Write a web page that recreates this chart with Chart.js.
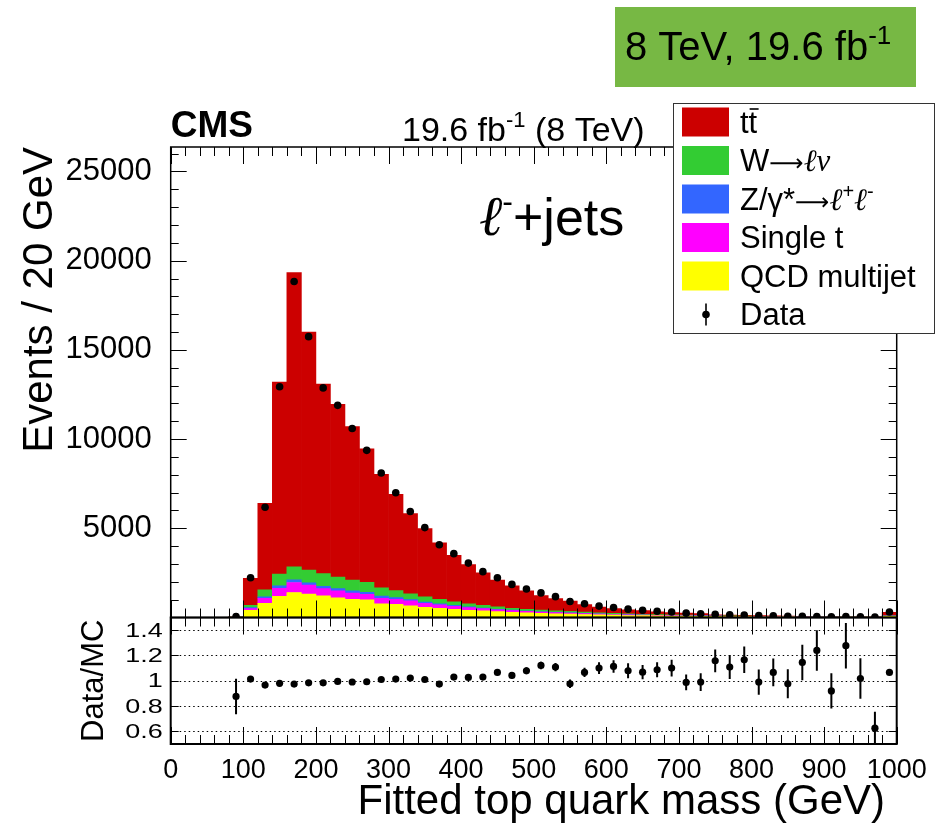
<!DOCTYPE html>
<html>
<head>
<meta charset="utf-8">
<title>Fitted top quark mass</title>
<script src="https://cdn.jsdelivr.net/npm/chart.js@4.4.1/dist/chart.umd.min.js"></script>
<style>
  html, body { margin: 0; padding: 0; background: #fff; }
  #wrap { position: relative; width: 943px; height: 828px; }
</style>
</head>
<body>
<div id="wrap"><canvas id="grafico" width="943" height="828"></canvas></div>
<script>
// ==========================
// Datos (bins de 20 GeV)
// ==========================

const centros = [10, 30, 50, 70, 90, 110, 130, 150, 170, 190,
  210, 230, 250, 270, 290, 310, 330, 350, 370, 390,
  410, 430, 450, 470, 490, 510, 530, 550, 570, 590,
  610, 630, 650, 670, 690, 710, 730, 750, 770, 790,
  810, 830, 850, 870, 890, 910, 930, 950, 970, 990];

const qcd = [0, 0, 0, 0, 20, 400, 800, 1190, 1400, 1320,
  1210, 1100, 1025, 985, 770, 745, 650, 577, 520, 465,
  409, 370, 330, 297, 260, 230, 210, 190, 170, 150,
  130, 115, 105, 95, 85, 75, 68, 60, 52, 46,
  42, 37, 33, 28, 24, 24, 20, 20, 18, 60];

const singleTop = [0, 0, 0, 0, 5, 100, 280, 450, 560, 500,
  410, 390, 350, 320, 310, 280, 280, 223, 186, 168,
  145, 128, 100, 90, 80, 75, 65, 55, 50, 45,
  40, 35, 30, 27, 24, 20, 18, 15, 13, 12,
  10, 9, 8, 7, 6, 6, 5, 5, 4, 15];

const zJets = [0, 0, 0, 0, 2, 50, 75, 130, 150, 130,
  130, 130, 115, 110, 120, 90, 73, 70, 60, 55,
  40, 35, 30, 25, 25, 20, 18, 15, 14, 12,
  10, 9, 8, 7, 6, 5, 5, 4, 4, 3,
  3, 3, 2, 2, 2, 2, 1, 1, 1, 5];

const wJets = [0, 0, 0, 0, 10, 140, 390, 670, 730, 710,
  710, 640, 615, 560, 460, 390, 320, 283, 260, 186,
  168, 155, 134, 108, 100, 95, 87, 80, 66, 58,
  55, 46, 42, 36, 30, 30, 24, 21, 19, 17,
  15, 13, 12, 10, 9, 9, 7, 7, 6, 25];

const ttbar = [0, 0, 0, 0, 20, 1510, 4855, 10760, 16490, 13340,
  10620, 9690, 8595, 7475, 6360, 5395, 4497, 3837, 3164, 2606,
  2208, 1812, 1506, 1260, 1025, 810, 675, 582, 422, 317,
  268, 231, 199, 157, 132, 118, 102, 55, 47, 38,
  36, 27, 22, 12, 7, 8, 6, 6, 6, 180];

const datos = [null, null, null, null, 50, 2230, 6180, 12930, 18830, 15740,
  12870, 11890, 10590, 9370, 8100, 6990, 5940, 5040, 4080, 3580,
  3050, 2570, 2230, 1855, 1600, 1380, 1170, 900, 770, 640,
  560, 470, 410, 350, 305, 245, 215, 180, 150, 135,
  105, 95, 75, 68, 60, 45, 50, 40, 22, 305];

// Data/MC
const cociente = [null, null, null, null, 0.876, 1.013, 0.966, 0.98, 0.974, 0.984,
  0.984, 0.995, 0.99, 0.992, 1.01, 1.013, 1.021, 1.01, 0.974, 1.029,
  1.026, 1.029, 1.066, 1.042, 1.079, 1.121, 1.108, 0.976, 1.066, 1.1,
  1.113, 1.079, 1.068, 1.087, 1.1, 0.987, 0.99, 1.158, 1.108, 1.166,
  0.99, 1.066, 0.976, 1.145, 1.24, 0.92, 1.277, 1.018, 0.625, 1.066];

const errCociente = [null, null, null, null, 0.14, 0.01, 0.01, 0.01, 0.01, 0.01,
  0.01, 0.01, 0.012, 0.012, 0.013, 0.014, 0.015, 0.016, 0.017, 0.018,
  0.02, 0.021, 0.023, 0.025, 0.027, 0.03, 0.032, 0.034, 0.037, 0.046,
  0.05, 0.06, 0.057, 0.06, 0.066, 0.063, 0.07, 0.09, 0.095, 0.105,
  0.1, 0.11, 0.115, 0.14, 0.16, 0.14, 0.18, 0.16, 0.13, 0.02];

// etiquetas de los ejes
const ticksX = [0, 100, 200, 300, 400, 500, 600, 700, 800, 900, 1000];
const ticksY = [5000, 10000, 15000, 20000, 25000];
const ticksCociente = [0.6, 0.8, 1, 1.2, 1.4];
const etiquetasCociente = ['0.6', '0.8', '1', '1.2', '1.4'];

const colores = {
  tt: '#cc0000', w: '#33cc33', z: '#3366ff', st: '#ff00ff', qcd: '#ffff00'
};

// ==========================
// Helpers de texto
// ==========================

const SANS = "'Liberation Sans', Arial, sans-serif";
const SERIF = "'Liberation Serif', 'DejaVu Serif', serif";

function texto(ctx, x, y, runs) {
  runs.forEach(([t, f, dy]) => {
    ctx.font = f;
    ctx.fillText(t, x, y + (dy || 0));
    x += ctx.measureText(t).width;
  });
  return x;
}

function ell(size) { return `italic ${size}px ${SERIF}`; }
function sans(size, w) { return `${w || ''} ${size}px ${SANS}`; }
const FLECHA = "24px 'DejaVu Sans', sans-serif";

// ==========================
// Plugin: marco, ticks, textos, leyenda
// ==========================

const decoracion = {
  id: 'decoracion',
  beforeDatasetsDraw(chart) {
    const { ctx, chartArea: ca, scales: { x, yr } } = chart;
    ctx.save();
    // lineas punteadas del ratio
    ctx.strokeStyle = '#000';
    ctx.lineWidth = 1;
    ctx.setLineDash([1.5, 3]);
    ticksCociente.forEach(v => {
      const py = Math.round(yr.getPixelForValue(v)) + 0.5;
      ctx.beginPath(); ctx.moveTo(ca.left, py); ctx.lineTo(ca.right, py); ctx.stroke();
    });
    ctx.setLineDash([]);
    // barras de error del ratio
    ctx.beginPath();
    ctx.rect(ca.left, yr.top, ca.right - ca.left, yr.bottom - yr.top);
    ctx.clip();
    ctx.lineWidth = 2;
    centros.forEach((c, i) => {
      if (cociente[i] == null) return;
      const px = x.getPixelForValue(c);
      ctx.beginPath();
      ctx.moveTo(px, yr.getPixelForValue(cociente[i] - errCociente[i]));
      ctx.lineTo(px, yr.getPixelForValue(cociente[i] + errCociente[i]));
      ctx.stroke();
    });
    ctx.restore();
  },
  afterDraw(chart) {
    const { ctx, chartArea: ca, scales: { x, y, yr } } = chart;
    ctx.save();
    ctx.strokeStyle = '#000';
    ctx.fillStyle = '#000';

    // ticks hacia dentro
    ctx.lineWidth = 1;
    const marcasX = (yEdge, dir) => {
      for (let v = 0; v <= 1000; v += 20) {
        const px = Math.round(x.getPixelForValue(v)) + 0.5;
        const len = v % 100 === 0 ? 17 : 9;
        ctx.beginPath(); ctx.moveTo(px, yEdge); ctx.lineTo(px, yEdge + dir * len); ctx.stroke();
      }
    };
    marcasX(y.top, 1);
    marcasX(y.bottom, -1);
    marcasX(yr.top, 1);
    marcasX(yr.bottom, -1);
    for (let v = 1000; v <= 26000; v += 1000) {
      const py = Math.round(y.getPixelForValue(v)) + 0.5;
      const len = v % 5000 === 0 ? 16 : 8;
      ctx.beginPath(); ctx.moveTo(ca.left, py); ctx.lineTo(ca.left + len, py); ctx.stroke();
      ctx.beginPath(); ctx.moveTo(ca.right, py); ctx.lineTo(ca.right - len, py); ctx.stroke();
    }
    ticksCociente.forEach(v => {
      const py = Math.round(yr.getPixelForValue(v)) + 0.5;
      ctx.beginPath(); ctx.moveTo(ca.left, py); ctx.lineTo(ca.left + 8, py); ctx.stroke();
      ctx.beginPath(); ctx.moveTo(ca.right, py); ctx.lineTo(ca.right - 8, py); ctx.stroke();
    });

    // marcos
    ctx.lineWidth = 1.5;
    ctx.strokeRect(ca.left, y.top, ca.right - ca.left, y.bottom - y.top);
    ctx.lineWidth = 2;
    ctx.strokeRect(ca.left, yr.top, ca.right - ca.left, yr.bottom - yr.top);

    // etiquetas del ratio (estiradas como en el original)
    ctx.textAlign = 'right';
    ctx.textBaseline = 'middle';
    ctx.font = sans(20);
    ticksCociente.forEach((v, i) => {
      ctx.save();
      ctx.translate(ca.left - 8, yr.getPixelForValue(v) + 1);
      ctx.scale(1.35, 1);
      ctx.fillText(etiquetasCociente[i], 0, 0);
      ctx.restore();
    });

    // textos CMS / lumi / canal
    ctx.textAlign = 'left';
    ctx.textBaseline = 'alphabetic';
    ctx.font = sans(37, 'bold');
    ctx.fillText('CMS', ca.left, 137);
    texto(ctx, 402, 141, [['19.6 fb', sans(34)], ['-1', sans(22), -14], [' (8 TeV)', sans(34)]]);
    texto(ctx, 479, 235, [['\u2113', ell(56)], ['-', sans(32), -23], ['+jets', sans(52)]]);

    // leyenda
    const lx = 673.5, ly = 103.5, lw = 261, lh = 230;
    ctx.fillStyle = '#fff';
    ctx.fillRect(lx, ly, lw, lh);
    ctx.strokeStyle = '#333';
    ctx.lineWidth = 1;
    ctx.strokeRect(lx, ly, lw, lh);
    const filas = [
      { c: colores.tt, runs: null },
      { c: colores.w, runs: [['W', sans(31)], ['\u27f6', FLECHA], ['\u2113', ell(31)], ['\u03bd', ell(31)]] },
      { c: colores.z, runs: [['Z/', sans(31)], ['\u03b3', sans(31)], ['*', sans(31)], ['\u27f6', FLECHA], ['\u2113', ell(31)], ['+', sans(20), -12], ['\u2113', ell(31)], ['-', sans(20), -12]] },
      { c: colores.st, runs: [['Single t', sans(31)]] },
      { c: colores.qcd, runs: [['QCD multijet', sans(31)]] }
    ];
    filas.forEach((f, i) => {
      const cy = 122 + i * 38.5;
      ctx.fillStyle = f.c;
      ctx.fillRect(682, cy - 14.5, 47, 29);
      ctx.fillStyle = '#000';
      if (f.runs) {
        texto(ctx, 740, cy + 10.5, f.runs);
      } else {
        ctx.font = sans(31);
        ctx.fillText('t', 740, cy + 10.5);
        const w1 = ctx.measureText('t').width;
        ctx.fillText('t', 740 + w1, cy + 10.5);
        ctx.lineWidth = 2;
        ctx.beginPath(); ctx.moveTo(740 + w1 + 1, cy - 13); ctx.lineTo(740 + w1 + 10, cy - 13); ctx.stroke();
      }
    });
    // fila Data
    const dy = 122 + 5 * 38.5;
    ctx.lineWidth = 2;
    ctx.beginPath(); ctx.moveTo(706, dy - 11); ctx.lineTo(706, dy + 11); ctx.stroke();
    ctx.beginPath(); ctx.arc(706, dy, 3.8, 0, Math.PI * 2); ctx.fill();
    ctx.font = sans(31);
    ctx.fillText('Data', 740, dy + 10.5);

    // caja verde
    ctx.fillStyle = '#77b844';
    ctx.fillRect(615, 7, 301, 80);
    ctx.fillStyle = '#000';
    texto(ctx, 625, 60, [['8 TeV, 19.6 fb', sans(40)], ['-1', sans(26), -16]]);

    ctx.restore();
  }
};

// ==========================
// Grafico
// ==========================

Chart.defaults.font.family = SANS;
Chart.defaults.color = '#000';

const puntos = (arr) => centros.map((c, i) => ({ x: c, y: arr[i] }));

const barras = (label, arr, color) => ({
  type: 'bar',
  label,
  data: puntos(arr),
  backgroundColor: color,
  borderWidth: 0,
  barPercentage: 1,
  categoryPercentage: 1,
  yAxisID: 'y'
});

new Chart(document.getElementById('grafico'), {
  data: {
    datasets: [
      {
        type: 'scatter', label: 'Data', data: puntos(datos), yAxisID: 'y', stack: 'data',
        pointRadius: 3.8, pointBackgroundColor: '#000', pointBorderWidth: 0
      },
      {
        type: 'scatter', label: 'Data/MC', data: puntos(cociente), yAxisID: 'yr',
        pointRadius: 3.6, pointBackgroundColor: '#000', pointBorderWidth: 0
      },
      barras('QCD multijet', qcd, colores.qcd),
      barras('Single t', singleTop, colores.st),
      barras('Z/\u03b3*', zJets, colores.z),
      barras('W', wJets, colores.w),
      barras('tt', ttbar, colores.tt)
    ]
  },
  options: {
    responsive: false,
    animation: false,
    devicePixelRatio: 1,
    layout: { padding: { top: 147, right: 46.3, left: 4, bottom: 0 } },
    plugins: { legend: { display: false }, tooltip: { enabled: false } },
    scales: {
      x: {
        type: 'linear', min: 0, max: 1000, stacked: true, offset: false,
        grid: { display: false, offset: false }, border: { display: false },
        ticks: { font: { size: 27 }, padding: 2, maxRotation: 0, autoSkip: false,
          callback: v => String(v) },
        afterBuildTicks: s => { s.ticks = ticksX.map(v => ({ value: v })); },
        title: { display: true, text: 'Fitted top quark mass (GeV) ', align: 'end', font: { size: 42 }, padding: { top: 0, bottom: 0 } },
        afterFit: s => { s.height = 84; }
      },
      yr: {
        type: 'linear', position: 'left', stack: 'pads', stackWeight: 1,
        min: 0.5, max: 1.5,
        grid: { display: false }, border: { display: false },
        ticks: { display: false },
        title: { display: true, text: 'Data/MC', font: { size: 31 }, padding: { top: 72 } },
        afterFit: s => { s.width = 166.7; }
      },
      y: {
        type: 'linear', position: 'left', stack: 'pads', stackWeight: 3.72,
        min: 0, max: 26370, stacked: true,
        grid: { display: false }, border: { display: false },
        ticks: { font: { size: 31 }, padding: 11, callback: v => String(v) },
        afterBuildTicks: s => { s.ticks = ticksY.map(v => ({ value: v })); },
        title: { display: true, text: 'Events / 20 GeV', align: 'end', font: { size: 42 }, padding: { top: 11 } },
        afterFit: s => { s.width = 166.7; }
      }
    }
  },
  plugins: [decoracion]
});
</script>
</body>
</html>
